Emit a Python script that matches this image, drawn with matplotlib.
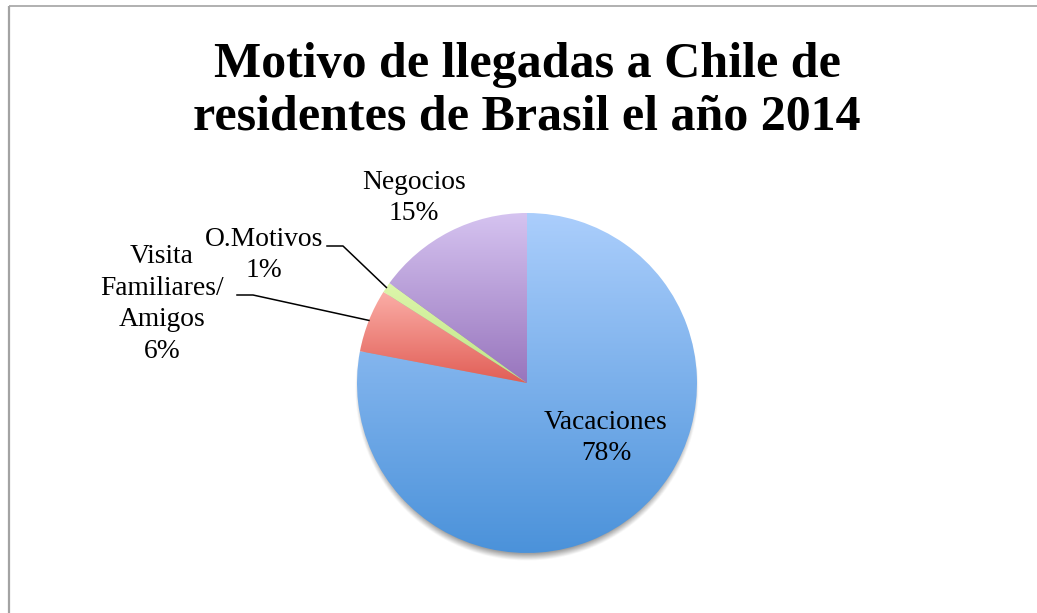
import numpy as np
import matplotlib
matplotlib.use("Agg")
import matplotlib.pyplot as plt
from matplotlib.colors import to_rgb

# Data
categories = ["Vacaciones", "Visita\nFamiliares/\nAmigos", "O.Motivos", "Negocios"]
shares = [78, 6, 1, 15]
pct_labels = ["78%", "6%", "1%", "15%"]
title = "Motivo de llegadas a Chile de\nresidentes de Brasil el año 2014"

# Vertical gradient (top, bottom) for each slice
grad_top = ["#abcefc", "#fbaea7", "#ddf6ab", "#d5c3f0"]
grad_bottom = ["#4b92da", "#e15e56", "#bfe586", "#9875bd"]

W, H = 1037, 613
fig = plt.figure(figsize=(W / 100, H / 100), dpi=100)
ax = fig.add_axes([0, 0, 1, 1])
ax.set_xlim(0, W)
ax.set_ylim(0, H)
ax.set_aspect("equal")
ax.axis("off")


def Y(y_top):
    """Convert a top-down pixel row into the axis' bottom-up coordinate."""
    return H - y_top


serif = "Liberation Serif"

# Chart frame (left and top border visible)
ax.plot([9, 9], [Y(6), Y(H + 5)], color="#a3a3a3", lw=1.6, solid_capstyle="butt", zorder=1)
ax.plot([9, W + 5], [Y(6), Y(6)], color="#a3a3a3", lw=1.2, solid_capstyle="butt", zorder=1)

# Title
ax.text(527, Y(91), title, ha="center", va="center", fontsize=36,
        fontweight="bold", family=serif, linespacing=1.2, zorder=5)

cx, cy, r = 527, Y(383), 170

# Soft drop shadow under the pie (offset downward)
sx0, sx1, sy0, sy1 = cx - r - 20, cx + r + 20, cy - r - 25, cy + r + 15
gx, gy = np.meshgrid(np.linspace(sx0, sx1, 500), np.linspace(sy1, sy0, 500))
d = np.hypot(gx - cx, gy - (cy - 6))
alpha = np.clip((r + 2 - d) / 7.0, 0, 1) * 0.55
shadow = np.zeros(gx.shape + (4,))
shadow[..., :3] = 0.33
shadow[..., 3] = alpha
ax.imshow(shadow, extent=[sx0, sx1, sy0, sy1], origin="upper",
          interpolation="bilinear", zorder=2)

wedges, _ = ax.pie(shares, startangle=90, counterclock=False, center=(cx, cy),
                   radius=r, wedgeprops=dict(linewidth=0), frame=True)
ax.axis("off")

for w, ct, cb in zip(wedges, grad_top, grad_bottom):
    w.set_zorder(3)
    w.set_facecolor("none")
    ext = w.get_path().get_extents()
    n = 256
    t = np.linspace(0, 1, n)[:, None]
    c0, c1 = np.array(to_rgb(ct)), np.array(to_rgb(cb))
    img = (c0[None, :] * (1 - t) + c1[None, :] * t)[:, None, :]
    im = ax.imshow(img, extent=[ext.x0, ext.x1, ext.y0, ext.y1], origin="upper",
                   interpolation="bilinear", aspect="auto", zorder=3)
    im.set_clip_path(w)

ax.set_xlim(0, W)
ax.set_ylim(0, H)

label_fs = 19.8
# Label centres (x, y top-down)
label_pos = [(606, 438), (162, 304), (264, 255), (414, 198)]
for cat, pct, (lx, ly) in zip(categories, pct_labels, label_pos):
    ax.text(lx, Y(ly), f"{cat}\n{pct}", ha="center", va="center",
            fontsize=label_fs, family=serif, linespacing=1.36, zorder=6)

# Leader lines for the two thin slices
leaders = {1: (237, 253, 295), 2: (327, 343, 246)}
for idx, (xa, xb, yl) in leaders.items():
    w = wedges[idx]
    mid = np.deg2rad((w.theta1 + w.theta2) / 2)
    ex, ey = cx + r * np.cos(mid), cy + r * np.sin(mid)
    ax.plot([xa, xb, ex], [Y(yl), Y(yl), ey], color="black", lw=1.1, zorder=6)

fig.savefig("out.png", dpi=100, facecolor="white")
